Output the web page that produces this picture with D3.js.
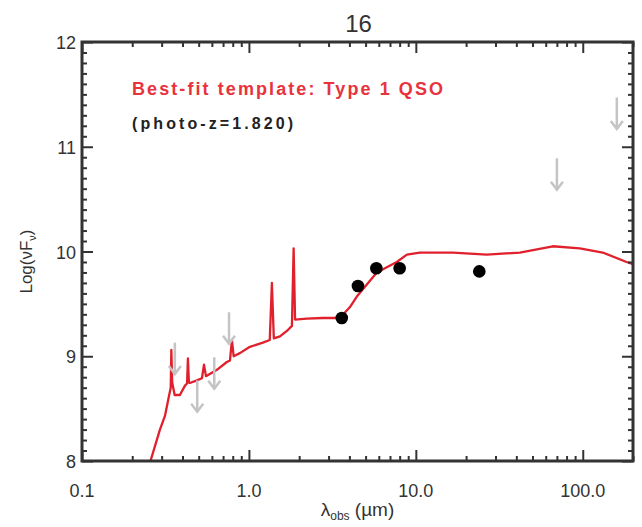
<!DOCTYPE html>
<html><head><meta charset="utf-8">
<script src="https://cdn.jsdelivr.net/npm/d3@7"></script>
<style>
html,body{margin:0;padding:0;background:#fff;}
svg{display:block;}
text{font-family:"Liberation Sans",Arial,sans-serif;}
</style></head>
<body>
<svg id="chart" width="642" height="527"></svg>
<script>
// ---- data ----
const title = "16";
const templateName = "Best-fit template: Type 1 QSO";
const photoZ = "(photo-z=1.820)";
// best-fit template (wavelength in micron, log nuFnu)
const templateWave = [0.255,0.293,0.314,0.332,0.340,0.343,0.347,0.359,0.386,0.414,0.426,0.431,0.437,0.443,0.488,0.523,0.538,0.553,0.643,0.738,0.77,0.791,0.81,0.883,1.014,1.213,1.333,1.373,1.41,1.534,1.71,1.81,1.853,1.89,2.22,2.77,3.51,4.03,4.43,5.84,7.69,8.84,10.56,16.7,26.6,42.0,66.1,96,131.8,183,200];
const templateLog  = [7.98,8.30,8.43,8.62,8.70,9.06,8.75,8.63,8.63,8.72,8.74,8.98,8.75,8.745,8.77,8.79,8.92,8.81,8.87,8.945,8.96,9.155,9.0,9.03,9.09,9.13,9.155,9.70,9.17,9.19,9.25,9.29,10.03,9.35,9.36,9.365,9.365,9.47,9.57,9.80,9.90,9.97,9.99,9.99,9.97,9.99,10.05,10.03,9.99,9.90,9.88];
// detections
const detWave = [3.6,4.5,5.8,8.0,24];
const detLog  = [9.365,9.67,9.84,9.84,9.81];
// upper limits
const limWave = [0.36,0.49,0.62,0.76,70,160];
const limLog  = [9.13,8.77,8.99,9.42,10.89,11.47];
// axes
const xTicks = [0.1,1,10,100];
const xTickLabels = ["0.1","1.0","10.0","100.0"];
const yTicks = [8,9,10,11,12];
const yTickLabels = ["8","9","10","11","12"];
const xDomain = [0.1,200];
const yDomain = [8,12];

// ---- layout ----
const svg = d3.select("#chart");
const L = 82, R = 633, T = 42, B = 461;
const x = d3.scaleLog().domain(xDomain).range([L,R]);
const y = d3.scaleLinear().domain(yDomain).range([B,T]);
const axisColor = "#333";

// minor tick values
const xMinor = [];
[0.1,1,10,100].forEach(d=>{for(let k=2;k<=9;k++){const v=k*d; if(v<=xDomain[1]) xMinor.push(v);}});
const yMinor = d3.range(8,12.001,0.1).map(v=>+v.toFixed(1)).filter(v=>Math.abs(v-Math.round(v))>1e-6);

// template curve
const line = d3.line().x(d=>x(d[0])).y(d=>y(d[1]));
const tpl = templateWave.map((w,i)=>[w,templateLog[i]]);
svg.append("defs").append("clipPath").attr("id","clip")
  .append("rect").attr("x",L).attr("y",T).attr("width",R-L).attr("height",B-T);
svg.append("path").datum(tpl).attr("d",line).attr("clip-path","url(#clip)")
  .attr("fill","none").attr("stroke","#e0202c").attr("stroke-width",2.3).attr("stroke-linejoin","round");

// upper limit arrows
const arrowLen = 0.3;
const lg = svg.append("g").attr("stroke","#c4c4c4").attr("stroke-width",2.5).attr("fill","none");
limWave.forEach((w,i)=>{
  const px = x(w), y0 = y(limLog[i]), y1 = y(limLog[i]-arrowLen);
  lg.append("line").attr("x1",px).attr("x2",px).attr("y1",y0).attr("y2",y1);
  lg.append("polyline").attr("points",`${px-6},${y1-8} ${px},${y1} ${px+6},${y1-8}`);
});

// detections
svg.append("g").selectAll("circle").data(detWave).join("circle")
  .attr("cx",d=>x(d)).attr("cy",(d,i)=>y(detLog[i])).attr("r",6.3).attr("fill","#000");

// axes ticks
function tickAxis(axisFn, scale, values, size, transform){
  const g = svg.append("g").attr("transform",transform)
    .call(axisFn(scale).tickValues(values).tickSize(size).tickFormat(""));
  g.select(".domain").remove();
  g.selectAll("line").attr("stroke",axisColor).attr("stroke-width",2);
}
tickAxis(d3.axisBottom,x,xTicks,-11,`translate(0,${B})`);
tickAxis(d3.axisBottom,x,xMinor,-5,`translate(0,${B})`);
tickAxis(d3.axisTop,x,xTicks,-11,`translate(0,${T})`);
tickAxis(d3.axisTop,x,xMinor,-5,`translate(0,${T})`);
tickAxis(d3.axisLeft,y,yTicks,-11,`translate(${L},0)`);
tickAxis(d3.axisLeft,y,yMinor,-5,`translate(${L},0)`);
tickAxis(d3.axisRight,y,yTicks,-11,`translate(${R},0)`);
tickAxis(d3.axisRight,y,yMinor,-5,`translate(${R},0)`);

// frame
svg.append("rect").attr("x",L).attr("y",T).attr("width",R-L).attr("height",B-T)
  .attr("fill","none").attr("stroke",axisColor).attr("stroke-width",3);

// tick labels
svg.append("g").selectAll("text").data(xTicks).join("text")
  .attr("x",d=>x(d)).attr("y",B+36).attr("text-anchor","middle")
  .attr("font-size",18).attr("fill","#333").text((d,i)=>xTickLabels[i]);
svg.append("g").selectAll("text").data(yTicks).join("text")
  .attr("x",L-6).attr("y",d=>y(d)+7).attr("text-anchor","end")
  .attr("font-size",18).attr("fill","#333").text((d,i)=>yTickLabels[i]);

// title
svg.append("text").attr("x",(L+R)/2+1).attr("y",32).attr("text-anchor","middle")
  .attr("font-size",24).attr("fill","#333").text(title);

// x label
const xl = svg.append("text").attr("x",(L+R)/2).attr("y",516).attr("text-anchor","middle")
  .attr("font-size",19).attr("fill","#333");
xl.append("tspan").text("λ");
xl.append("tspan").attr("font-size",12).attr("dy",4).text("obs");
xl.append("tspan").attr("dy",-4).text(" (µm)");

// y label
const yl = svg.append("text").attr("transform",`translate(32,${(T+B)/2+10}) rotate(-90)`)
  .attr("text-anchor","middle").attr("font-size",17).attr("fill","#333");
yl.append("tspan").text("Log(νF");
yl.append("tspan").attr("font-size",11).attr("dy",4).text("ν");
yl.append("tspan").attr("dy",-4).text(")");

// annotations
svg.append("text").attr("x",132).attr("y",95).attr("font-size",18).attr("font-weight","bold")
  .attr("fill","#e8323c").attr("textLength",311).attr("lengthAdjust","spacing").text(templateName);
svg.append("text").attr("x",132).attr("y",129).attr("font-size",16).attr("font-weight","bold")
  .attr("fill","#222").attr("textLength",161).attr("lengthAdjust","spacing").text(photoZ);
</script>
</body></html>
